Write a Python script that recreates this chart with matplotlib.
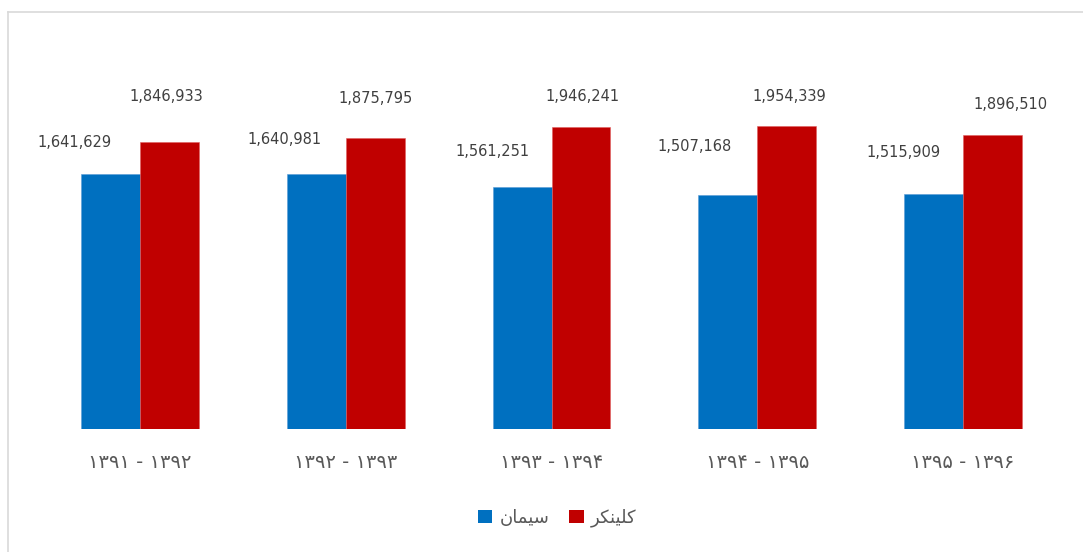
import numpy as np
import matplotlib
matplotlib.use('Agg')
import matplotlib.pyplot as plt
from matplotlib.lines import Line2D
from matplotlib.patches import Patch

periods = ['۱۳۹۱ - ۱۳۹۲', '۱۳۹۲ - ۱۳۹۳', '۱۳۹۳ - ۱۳۹۴', '۱۳۹۴ - ۱۳۹۵', '۱۳۹۵ - ۱۳۹۶']
cement = [1641629, 1640981, 1561251, 1507168, 1515909]
clinker = [1846933, 1875795, 1946241, 1954339, 1896510]
series_names = ['سیمان', 'کلینکر']

# label offsets in points (dx, dy) from bar top centre, hand placed like the original
cement_off = [(-26, 23), (-23, 25), (-21, 25), (-24, 35), (-22, 30)]
clinker_off = [(-2, 33), (0, 28), (1, 22), (2, 21), (13, 22)]

# tiny persian shaper (matplotlib has no complex text layout)
FORMS = {
    'س': ('\uFEB1', '\uFEB2', '\uFEB3', '\uFEB4', True),
    'ی': ('\uFBFC', '\uFBFD', '\uFBFE', '\uFBFF', True),
    'م': ('\uFEE1', '\uFEE2', '\uFEE3', '\uFEE4', True),
    'ا': ('\uFE8D', '\uFE8E', None, None, False),
    'ن': ('\uFEE5', '\uFEE6', '\uFEE7', '\uFEE8', True),
    'ک': ('\uFB8E', '\uFB8F', '\uFB90', '\uFB91', True),
    'ل': ('\uFEDD', '\uFEDE', '\uFEDF', '\uFEE0', True),
    'ر': ('\uFEAD', '\uFEAE', None, None, False),
}


def shape(word):
    out = []
    for i, ch in enumerate(word):
        f = FORMS[ch]
        prev_joins = i > 0 and FORMS[word[i - 1]][4]
        next_joins = f[4] and i < len(word) - 1
        if prev_joins and next_joins:
            out.append(f[3])
        elif prev_joins:
            out.append(f[1])
        elif next_joins:
            out.append(f[2])
        else:
            out.append(f[0])
    return ''.join(reversed(out))


plt.rcParams['font.family'] = ['DejaVu Sans']

fig = plt.figure(figsize=(10.83, 5.52), dpi=100)
W, H = 1083, 552
ax = fig.add_axes([37 / W, 1 - 429 / H, (1066 - 37) / W, (429 - 41) / H])

x = np.arange(len(periods))
bw = 0.286
ax.bar(x - bw / 2, cement, bw, color='#0070C0', edgecolor='#5B9BD5', linewidth=0.4)
ax.bar(x + bw / 2, clinker, bw, color='#C00000', edgecolor='#E06060', linewidth=0.4)

for i in range(len(periods)):
    ax.annotate(f'{cement[i]:,}', (x[i] - bw / 2, cement[i]), xytext=cement_off[i],
                textcoords='offset points', ha='center', va='center', fontsize=10.5, color='#404040')
    ax.annotate(f'{clinker[i]:,}', (x[i] + bw / 2, clinker[i]), xytext=clinker_off[i],
                textcoords='offset points', ha='center', va='center', fontsize=10.5, color='#404040')

ax.set_xlim(-0.5, len(periods) - 0.5)
ax.set_ylim(0, 2500000)
ax.set_xticks(x)
ax.set_xticklabels(periods, fontsize=14, color='#595959')
ax.tick_params(axis='x', length=0, pad=17)
ax.set_yticks([])
for s in ax.spines.values():
    s.set_visible(False)

handles = [Patch(facecolor='#0070C0'), Patch(facecolor='#C00000')]
fig.legend(handles, [shape(n) for n in series_names], loc='center', bbox_to_anchor=(557 / W, 1 - 518 / H),
           ncol=2, frameon=False, fontsize=13, labelcolor='#595959', handlelength=0.8, handleheight=0.8,
           handletextpad=0.4, columnspacing=1.1)

# chart border (only top and left visible in the crop)
fig.add_artist(Line2D([7.5 / W, 7.5 / W], [0, 1 - 11.5 / H], color='#D9D9D9', lw=1.2))
fig.add_artist(Line2D([7.5 / W, 1], [1 - 11.5 / H, 1 - 11.5 / H], color='#D9D9D9', lw=1.2))

fig.savefig('out.png', dpi=100)
